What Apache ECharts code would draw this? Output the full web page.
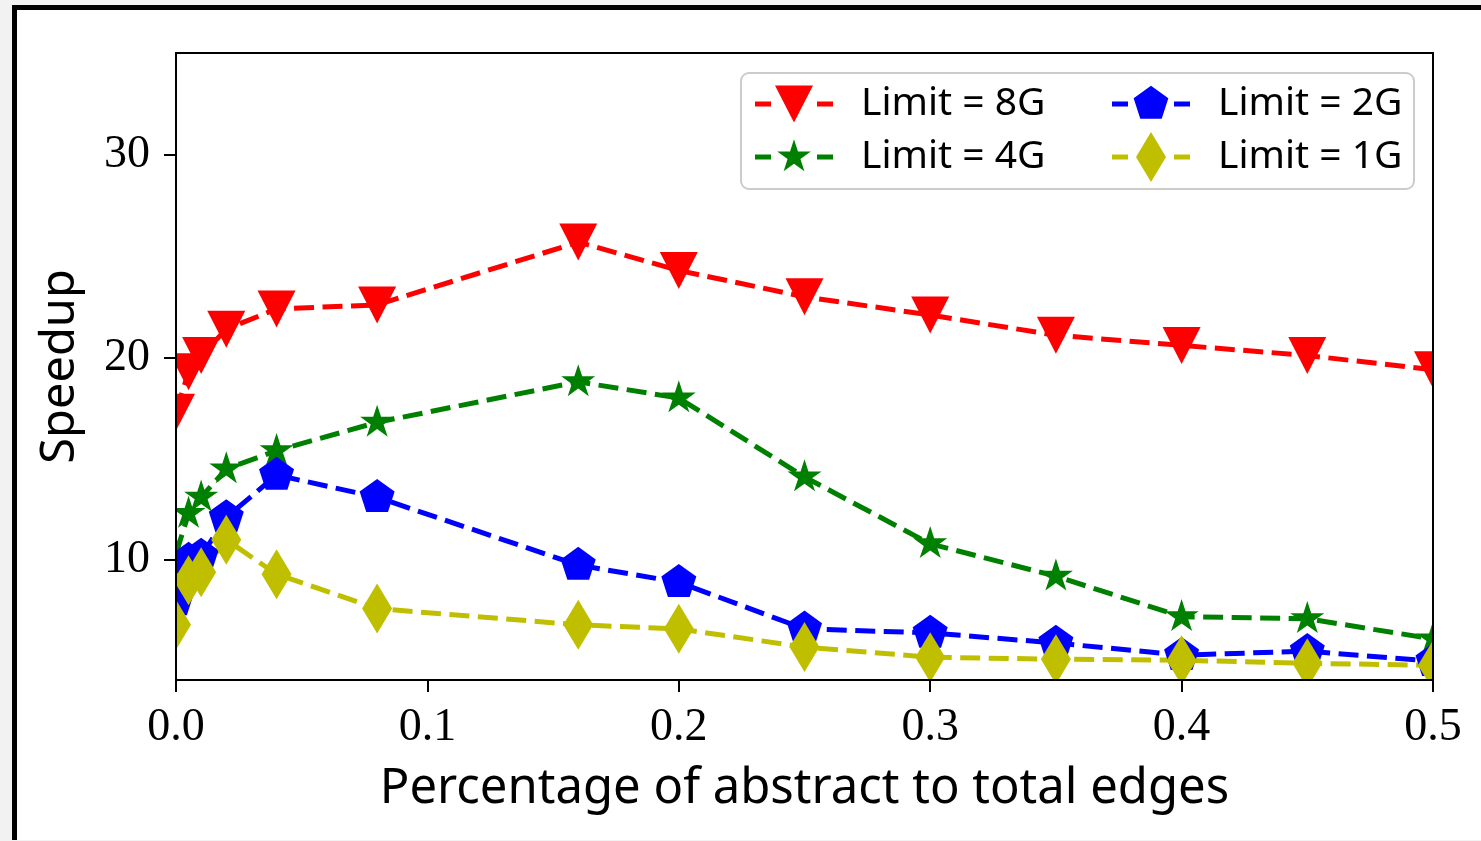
<!DOCTYPE html>
<html><head><meta charset="utf-8">
<script src="https://cdn.jsdelivr.net/npm/echarts@6/dist/echarts.min.js"></script>
<style>
html,body{margin:0;padding:0;background:#f2f2f2;width:1481px;height:841px;overflow:hidden}
#frame{position:absolute;left:12px;top:5px;width:1480px;height:830px;background:#fff;border-left:5px solid #000;border-top:5px solid #000}
#chart{position:absolute;left:0;top:0;width:1481px;height:841px}
</style></head><body>
<div id="frame"></div>
<div id="chart"></div>
<script>
// ---- data ----
const xValues = [0, 0.005, 0.01, 0.02, 0.04, 0.08, 0.16, 0.2, 0.25, 0.3, 0.35, 0.4, 0.45, 0.5];
const limit8G = [17.3, 19.3, 20.1, 21.4, 22.4, 22.6, 25.7, 24.3, 23.0, 22.1, 21.1, 20.6, 20.1, 19.4];
const limit4G = [10.3, 12.3, 13.1, 14.5, 15.4, 16.8, 18.8, 18.0, 14.1, 10.8, 9.2, 7.2, 7.1, 6.1];
const limit2G = [8.0, 10.0, 10.2, 12.1, 14.2, 13.1, 9.75, 8.9, 6.6, 6.4, 5.9, 5.3, 5.5, 5.0];
const limit1G = [6.8, 9.0, 9.4, 11.0, 9.3, 7.6, 6.8, 6.6, 5.7, 5.2, 5.1, 5.05, 4.9, 4.8];
const seriesNames = ['Limit = 8G', 'Limit = 4G', 'Limit = 2G', 'Limit = 1G'];
const yTickValues = [10, 20, 30];
const xAxisTitle = 'Percentage of abstract to total edges';
const yAxisTitle = 'Speedup';

// ---- styling helpers ----
const SANS = '"Noto Sans", "DejaVu Sans", sans-serif';
const SERIF = '"Liberation Serif", "DejaVu Serif", serif';
const colors = ['#ff0000', '#008000', '#0000ff', '#bfbf00'];

function regularPts(n, R, innerR, cx, cy) {
  const pts = [];
  const step = Math.PI / n;
  for (let k = 0; k < 2 * n; k++) {
    if (innerR == null && k % 2) continue;
    const r = (k % 2) ? innerR : R;
    const a = -Math.PI / 2 + k * step;
    pts.push([cx + r * Math.cos(a), cy + r * Math.sin(a)]);
  }
  return pts;
}
function poly(pts) {
  return 'M' + pts.map(p => p[0].toFixed(2) + ',' + p[1].toFixed(2)).join(' L') + ' Z';
}
const triSize = [38, 37], pentSize = [35, 33], starSize = [34, 32], diaSize = [30, 50];
const symTri = 'path://M0,0 L2,0 L1,2 Z';
const symPent = 'path://' + poly(regularPts(5, 1, null, 0, 0));
const symStar = 'path://' + poly(regularPts(5, 1, 0.382, 0, 0));

const IW = 78, IH = 50, LW = 5;
function dashes() {
  const y0 = IH / 2 - LW / 2, y1 = IH / 2 + LW / 2;
  // invisible zero-height anchors keep every icon's box at IW x IH
  return 'M0,0 L0.01,0 Z M0,' + IH + ' L0.01,' + IH + ' Z ' +
    poly([[0, y0], [16, y0], [16, y1], [0, y1]]) + ' ' + poly([[IW - 16, y0], [IW, y0], [IW, y1], [IW - 16, y1]]);
}
const cx = IW / 2, cy = IH / 2;
const icons = [
  'path://' + dashes() + ' ' + poly([[cx - triSize[0] / 2, cy - triSize[1] / 2], [cx + triSize[0] / 2, cy - triSize[1] / 2], [cx, cy + triSize[1] / 2]]),
  'path://' + dashes() + ' ' + poly(regularPts(5, starSize[1] / 1.809, 0.382 * starSize[1] / 1.809, cx, cy)),
  'path://' + dashes() + ' ' + poly(regularPts(5, pentSize[1] / 1.809, null, cx, cy)),
  'path://' + dashes() + ' ' + poly([[cx, cy - diaSize[1] / 2], [cx + diaSize[0] / 2, cy], [cx, cy + diaSize[1] / 2], [cx - diaSize[0] / 2, cy]])
];
const symbols = [symTri, symStar, symPent, 'diamond'];
const sizes = [triSize, starSize, pentSize, diaSize];
const offsets = [[0, 0], [0, -starSize[1] / 1.809 * 0.0955], [0, -pentSize[1] / 1.809 * 0.0955], [0, 0]];
const values = [limit8G, limit4G, limit2G, limit1G];

const series = seriesNames.map((name, i) => ({
  name, type: 'line',
  data: xValues.map((x, j) => [x, values[i][j]]),
  symbol: symbols[i], symbolSize: sizes[i], symbolOffset: offsets[i],
  showAllSymbol: true,
  lineStyle: { color: colors[i], width: LW, type: [20, 8.5] },
  itemStyle: { color: colors[i], borderWidth: 0 },
  emphasis: { disabled: true },
  z: 2
}));

const legendPos = [[755, 79], [755, 132], [1112, 79], [1112, 132]];
const legends = seriesNames.map((name, i) => ({
  data: [{ name, icon: icons[i] }],
  left: legendPos[i][0], top: legendPos[i][1],
  padding: 0, itemWidth: IW, itemHeight: IH, itemGap: 0,
  selectedMode: false, symbolKeepAspect: true,
  itemStyle: { borderWidth: 0 },
  textStyle: { fontFamily: SANS, fontSize: 39, color: '#000', padding: [0, 0, 0, 23] },
  z: 20
}));

const chart = echarts.init(document.getElementById('chart'), null, { renderer: 'canvas' });
const axisLineStyle = { show: true, onZero: false, lineStyle: { color: '#000', width: 2 } };
chart.setOption({
  animation: false,
  backgroundColor: 'transparent',
  grid: { left: 176, right: 48, top: 53, bottom: 161, containLabel: false },
  legend: legends,
  xAxis: [{
    type: 'value', min: 0, max: 0.5, interval: 0.1, position: 'bottom', z: 10,
    axisLine: axisLineStyle,
    axisTick: { show: true, length: 12, lineStyle: { color: '#000', width: 2 } },
    axisLabel: { margin: 25, fontFamily: SERIF, fontSize: 46, color: '#000', formatter: v => v.toFixed(1) },
    splitLine: { show: false },
    name: xAxisTitle, nameLocation: 'middle', nameGap: 85,
    nameTextStyle: { fontFamily: SANS, fontSize: 49, color: '#000' }
  }, {
    type: 'value', min: 0, max: 0.5, position: 'top', z: 10,
    axisLine: axisLineStyle, axisTick: { show: false }, axisLabel: { show: false }, splitLine: { show: false }
  }],
  yAxis: [{
    type: 'value', min: 4.074, max: 35.04, position: 'left', z: 10,
    axisLine: axisLineStyle,
    axisTick: { show: true, length: 12, customValues: yTickValues, lineStyle: { color: '#000', width: 2 } },
    axisLabel: { margin: 26, fontFamily: SERIF, fontSize: 46, color: '#000', customValues: yTickValues },
    splitLine: { show: false },
    name: yAxisTitle, nameLocation: 'middle', nameGap: 92, nameRotate: 90,
    nameTextStyle: { fontFamily: SANS, fontSize: 47, color: '#000' }
  }, {
    type: 'value', min: 4.074, max: 35.04, position: 'right', z: 10,
    axisLine: axisLineStyle, axisTick: { show: false }, axisLabel: { show: false }, splitLine: { show: false }
  }],
  graphic: [
    // masks that clip marker overflow outside the plot area
    { type: 'rect', z: 5, silent: true, shape: { x: 120, y: 15, width: 55, height: 705 }, style: { fill: '#fff' } },
    { type: 'rect', z: 5, silent: true, shape: { x: 1434, y: 15, width: 47, height: 705 }, style: { fill: '#fff' } },
    { type: 'rect', z: 5, silent: true, shape: { x: 120, y: 15, width: 1361, height: 37 }, style: { fill: '#fff' } },
    { type: 'rect', z: 5, silent: true, shape: { x: 120, y: 681, width: 1361, height: 40 }, style: { fill: '#fff' } },
    // legend frame
    { type: 'rect', z: 15, silent: true, shape: { x: 741, y: 73, width: 673, height: 116, r: 8 },
      style: { fill: 'rgba(255,255,255,0.8)', stroke: '#cccccc', lineWidth: 2 } }
  ],
  series
});
</script>
</body></html>
